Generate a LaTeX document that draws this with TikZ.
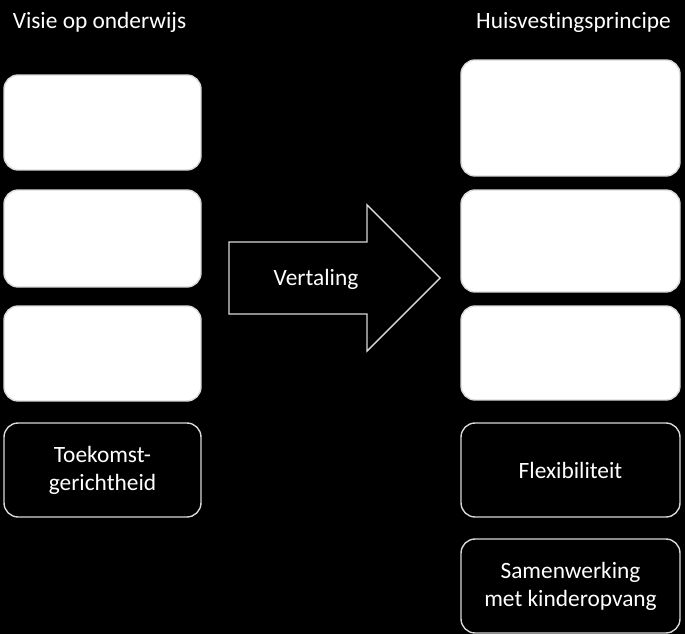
\documentclass[tikz,border=0pt]{standalone}
\usepackage{fontspec}
\setmainfont[Ligatures=NoCommon]{Carlito}
\usetikzlibrary{positioning}

\begin{document}
\begin{tikzpicture}[x=0.02cm, y=-0.02cm,
  every node/.style={font=\fontsize{13.3}{16}\selectfont, text=white},
  fullbox/.style={draw=white!85!black, fill=white, line width=0.8pt, rounded corners=8pt},
  openbox/.style={draw=white!85!black, fill=black, line width=0.8pt, rounded corners=8pt, align=center},
  lbox/.style={minimum width=3.94cm},
  rbox/.style={minimum width=4.38cm},
  title/.style={inner sep=0pt}]
\fill[black] (0,0) rectangle (685,634);
\useasboundingbox (0,0) rectangle (685,634);
% left column
\node[title] (visie) at (99.5,22) {Visie op onderwijs};
\node[fullbox, lbox, minimum height=1.90cm] (l1) at (102.5,122.5) {};
\node[fullbox, lbox, minimum height=1.94cm] (l2) at (102.5,238.5) {};
\node[fullbox, lbox, minimum height=1.90cm] (l3) at (102.5,353.5) {};
\node[openbox, lbox, minimum height=1.88cm] (l4) at (102.5,470) {Toekomst-\\gerichtheid};
% right column
\node[title] (huis) at (573.5,22) {Huisvestingsprincipe};
\node[fullbox, rbox, minimum height=2.32cm] (r1) at (570.5,118) {};
\node[fullbox, rbox, minimum height=2.04cm] (r2) at (570.5,241) {};
\node[fullbox, rbox, minimum height=1.88cm] (r3) at (570.5,353) {};
\node[openbox, rbox, minimum height=1.88cm] (r4) at (570.5,470) {Flexibiliteit};
\node[openbox, rbox, minimum height=1.88cm] (r5) at (570.5,586) {Samenwerking\\met kinderopvang};
% block arrow
\draw[white!85!black, line width=0.8pt, fill=black]
  (229,242) -- (367,242) -- (367,205) -- (440,278) -- (367,351) -- (367,314) -- (229,314) -- cycle;
\node (vertaling) at (316,279) {Vertaling};
\end{tikzpicture}
\end{document}
